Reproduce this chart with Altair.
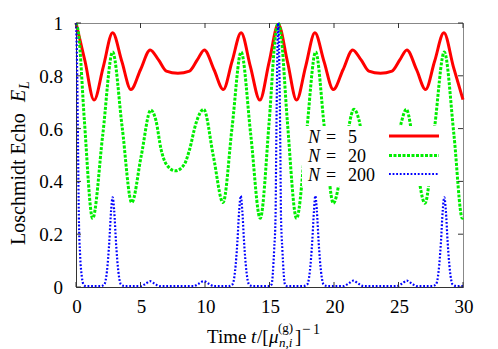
import altair as alt
import pandas as pd

# ---------------- data ----------------
red_t = [0, 0.7, 1.4, 2.12, 2.84, 3.55, 4.26, 5.0, 5.75, 6.4, 7.0, 7.9, 8.8, 9.4, 9.95,
         10.7, 11.42, 12.1, 12.8, 13.52, 14.25, 14.97, 15.68, 16.4, 17.1, 17.8, 18.52,
         19.22, 19.95, 20.7, 21.45, 22.1, 22.7, 23.6, 24.5, 25.1, 25.65, 26.4, 27.1,
         27.8, 28.52, 29.25, 30]
red_y = [1.0, 0.855, 0.708, 0.835, 0.963, 0.855, 0.748, 0.823, 0.898, 0.86, 0.818, 0.81,
         0.818, 0.86, 0.898, 0.823, 0.748, 0.855, 0.963, 0.835, 0.708, 0.852, 0.995,
         0.852, 0.708, 0.835, 0.963, 0.855, 0.748, 0.823, 0.898, 0.86, 0.818, 0.81,
         0.818, 0.86, 0.898, 0.823, 0.748, 0.855, 0.963, 0.835, 0.71]

green_t = [0, 0.2, 0.65, 1.29, 2.07, 2.84, 3.58, 4.32, 5.05, 5.8, 6.2, 6.6, 7.0, 7.7,
           8.4, 8.8, 9.3, 9.9,
           10.65, 11.4, 12.1, 12.8, 13.55, 14.28, 14.98, 15.48, 15.68, 15.88, 16.38, 17.1,
           17.85, 18.58, 19.25, 19.95, 20.75, 21.55, 21.95, 22.35, 22.75, 23.55, 24.35,
           24.75, 25.2, 25.6, 26.3,
           27.05, 27.8, 28.55, 29.3, 29.95, 30]
green_y = [1.0, 0.96, 0.63, 0.26, 0.575, 0.89, 0.605, 0.32, 0.495, 0.67, 0.63, 0.52,
           0.465, 0.44, 0.465, 0.52, 0.62, 0.673,
           0.495, 0.32, 0.605, 0.89, 0.575, 0.26, 0.63, 0.96, 1.0, 0.96,
           0.63, 0.26, 0.575, 0.89, 0.605, 0.317, 0.495, 0.673, 0.63, 0.52, 0.465, 0.44,
           0.465, 0.52, 0.62, 0.673, 0.495, 0.317, 0.605, 0.89, 0.575, 0.26, 0.262]

blue_t = [0, 0.08, 0.16, 0.22, 0.32, 0.45, 0.6, 0.8,
          1.9, 2.2, 2.4, 2.58, 2.72, 2.84, 2.96, 3.1, 3.28, 3.48, 3.8,
          5.0, 5.4, 5.75, 6.1, 6.5,
          9.1, 9.5, 9.9, 10.3, 10.7,
          11.8, 12.13, 12.33, 12.51, 12.65, 12.77, 12.89, 13.03, 13.21, 13.41, 13.7,
          15.0, 15.16, 15.36, 15.47, 15.52, 15.6, 15.68, 15.76, 15.84, 15.89, 16.0, 16.2, 16.4,
          17.6, 17.93, 18.13, 18.31, 18.45, 18.55, 18.67, 18.81, 18.99, 19.19, 19.5,
          20.7, 21.1, 21.5, 21.9, 22.3,
          24.85, 25.25, 25.65, 26.05, 26.45,
          27.6, 27.91, 28.11, 28.29, 28.43, 28.55, 28.67, 28.81, 28.99, 29.19, 29.5, 30]
blue_y = [1.0, 0.85, 0.52, 0.27, 0.12, 0.04, 0.008, 0.003,
          0.003, 0.01, 0.06, 0.17, 0.29, 0.34, 0.29, 0.17, 0.06, 0.01, 0.003,
          0.003, 0.012, 0.022, 0.012, 0.003,
          0.003, 0.012, 0.022, 0.012, 0.003,
          0.003, 0.01, 0.06, 0.17, 0.29, 0.345, 0.29, 0.17, 0.06, 0.01, 0.003,
          0.003, 0.01, 0.14, 0.27, 0.52, 0.85, 1.0, 0.85, 0.52, 0.27, 0.14, 0.01, 0.003,
          0.003, 0.01, 0.06, 0.17, 0.29, 0.345, 0.29, 0.17, 0.06, 0.01, 0.003,
          0.003, 0.012, 0.024, 0.012, 0.003,
          0.003, 0.012, 0.024, 0.012, 0.003,
          0.003, 0.01, 0.06, 0.17, 0.29, 0.34, 0.29, 0.17, 0.06, 0.01, 0.003, 0.003]

x_ticks = [0, 5, 10, 15, 20, 25, 30]
x_labels = ["0", "5", "10", "15", "20", "25", "30"]
y_ticks = [0, 0.2, 0.4, 0.6, 0.8, 1.0]
y_labels = ["0", "0.2", "0.4", "0.6", "0.8", "1"]
legend_n = ["5", "20", "200"]

# ---------------- layout / style ----------------
W, H = 387, 264
FONT = "Liberation Serif"
FS = 19
FRAME = "#333333"

xs = alt.Scale(domain=[0, 30], nice=False, zero=False)
ys = alt.Scale(domain=[0, 1], nice=False, zero=False)
xaxis = alt.Axis(values=x_ticks, ticks=False, grid=False, domainColor=FRAME, domainWidth=1,
                 labels=False, title=None)
yaxis = alt.Axis(values=y_ticks, ticks=False, grid=False, domainColor=FRAME, domainWidth=1,
                 labels=False, title=None)

X = alt.X("t:Q", scale=xs, axis=xaxis)
Y = alt.Y("E:Q", scale=ys, axis=yaxis)


def line(t, y, color, width, dash=None):
    kw = dict(color=color, strokeWidth=width, interpolate="monotone", strokeCap="butt")
    if dash:
        kw["strokeDash"] = dash
    return alt.Chart(pd.DataFrame({"t": t, "E": y})).mark_line(**kw).encode(x=X, y=Y)


one = alt.Data(values=[{}])


def txt(s, x, y, size=FS, style="normal", align="left", angle=None, baseline="alphabetic"):
    kw = dict(text=s, font=FONT, fontSize=size, fontStyle=style, align=align,
              baseline=baseline, color="black")
    if angle is not None:
        kw["angle"] = angle
    return alt.Chart(one).mark_text(**kw).encode(x=alt.value(x), y=alt.value(y))


def prule(x, x2, y, y2, color, width=1, dash=None):
    kw = dict(color=color, strokeWidth=width, strokeCap="butt")
    if dash:
        kw["strokeDash"] = dash
    return alt.Chart(one).mark_rule(**kw).encode(
        x=alt.value(x), x2=alt.value(x2), y=alt.value(y), y2=alt.value(y2))


RED = "#ff0000"
GREEN = "#00ee00"
BLUE = "#0000ff"
GDASH = [3, 1.5]
BDASH = [1.8, 1.8]

layers = [
    line(red_t, red_y, RED, 3),
    line(green_t, green_y, GREEN, 3, GDASH),
    line(blue_t, blue_y, BLUE, 2.2, BDASH),
]

# inward ticks on all four sides + tick labels
xt = pd.DataFrame({"t": x_ticks, "lab": x_labels})
yt = pd.DataFrame({"E": y_ticks, "lab": y_labels})
layers += [
    alt.Chart(xt).mark_rule(color=FRAME, strokeWidth=1).encode(x=X, y=alt.value(H), y2=alt.value(H - 5)),
    alt.Chart(xt).mark_rule(color=FRAME, strokeWidth=1).encode(x=X, y=alt.value(0), y2=alt.value(5)),
    alt.Chart(yt).mark_rule(color=FRAME, strokeWidth=1).encode(y=Y, x=alt.value(0), x2=alt.value(5)),
    alt.Chart(yt).mark_rule(color=FRAME, strokeWidth=1).encode(y=Y, x=alt.value(W - 5), x2=alt.value(W)),
    alt.Chart(xt).mark_text(font=FONT, fontSize=FS, align="center", baseline="alphabetic",
                            color="black", dx=1).encode(x=X, y=alt.value(H + 26), text="lab:N"),
    alt.Chart(yt).mark_text(font=FONT, fontSize=FS, align="right", baseline="alphabetic",
                            color="black", dy=7).encode(x=alt.value(-13), y=Y, text="lab:N"),
]

# legend (opaque box, labels, samples)
layers.append(alt.Chart(one).mark_rect(color="white").encode(
    x=alt.value(226), x2=alt.value(372), y=alt.value(103), y2=alt.value(163)))
rows_y = [113, 132.5, 151]
styles = [(RED, 3, None), (GREEN, 3, GDASH), (BLUE, 2.2, BDASH)]
LFS = 18
for n, ry, (c, w, d) in zip(legend_n, rows_y, styles):
    layers.append(txt("N", 232, ry + 6.5, size=LFS, style="italic"))
    layers.append(txt("=", 250, ry + 6.5, size=LFS))
    layers.append(txt(n, 272, ry + 6.5, size=LFS))
    layers.append(prule(313, 363, ry, ry, c, w, d))

# x-axis title: Time t/[mu_{n,i}^{(g)}]^{-1}
TY = 320
layers += [
    txt("Time", 131, TY),
    txt("t", 175, TY, style="italic"),
    txt("/[", 181, TY),
    txt("μ", 193, TY, style="italic"),
    txt("n,i", 203, TY + 4, size=13, style="italic"),
    txt("(g)", 202, TY - 11, size=13),
    txt("]", 219, TY),
    txt("−", 226, TY - 9, size=15),
    txt("1", 237, TY - 9, size=14),
]

# y-axis title: Loschmidt Echo E_L
layers += [
    txt("Loschmidt Echo", -51, 222, size=20, angle=270),
    txt("E", -51, 79, size=20, angle=270, style="italic"),
    txt("L", -47, 66, size=14, angle=270, style="italic"),
]

chart = alt.layer(*layers).properties(
    width=W, height=H,
    padding={"left": 68, "top": 15, "right": 27, "bottom": 62},
    autosize=alt.AutoSizeParams(type="none"),
    background="white",
).configure_view(stroke="#888888", strokeWidth=1)

chart.save("out.html", embed_options={"renderer": "svg", "actions": False})
